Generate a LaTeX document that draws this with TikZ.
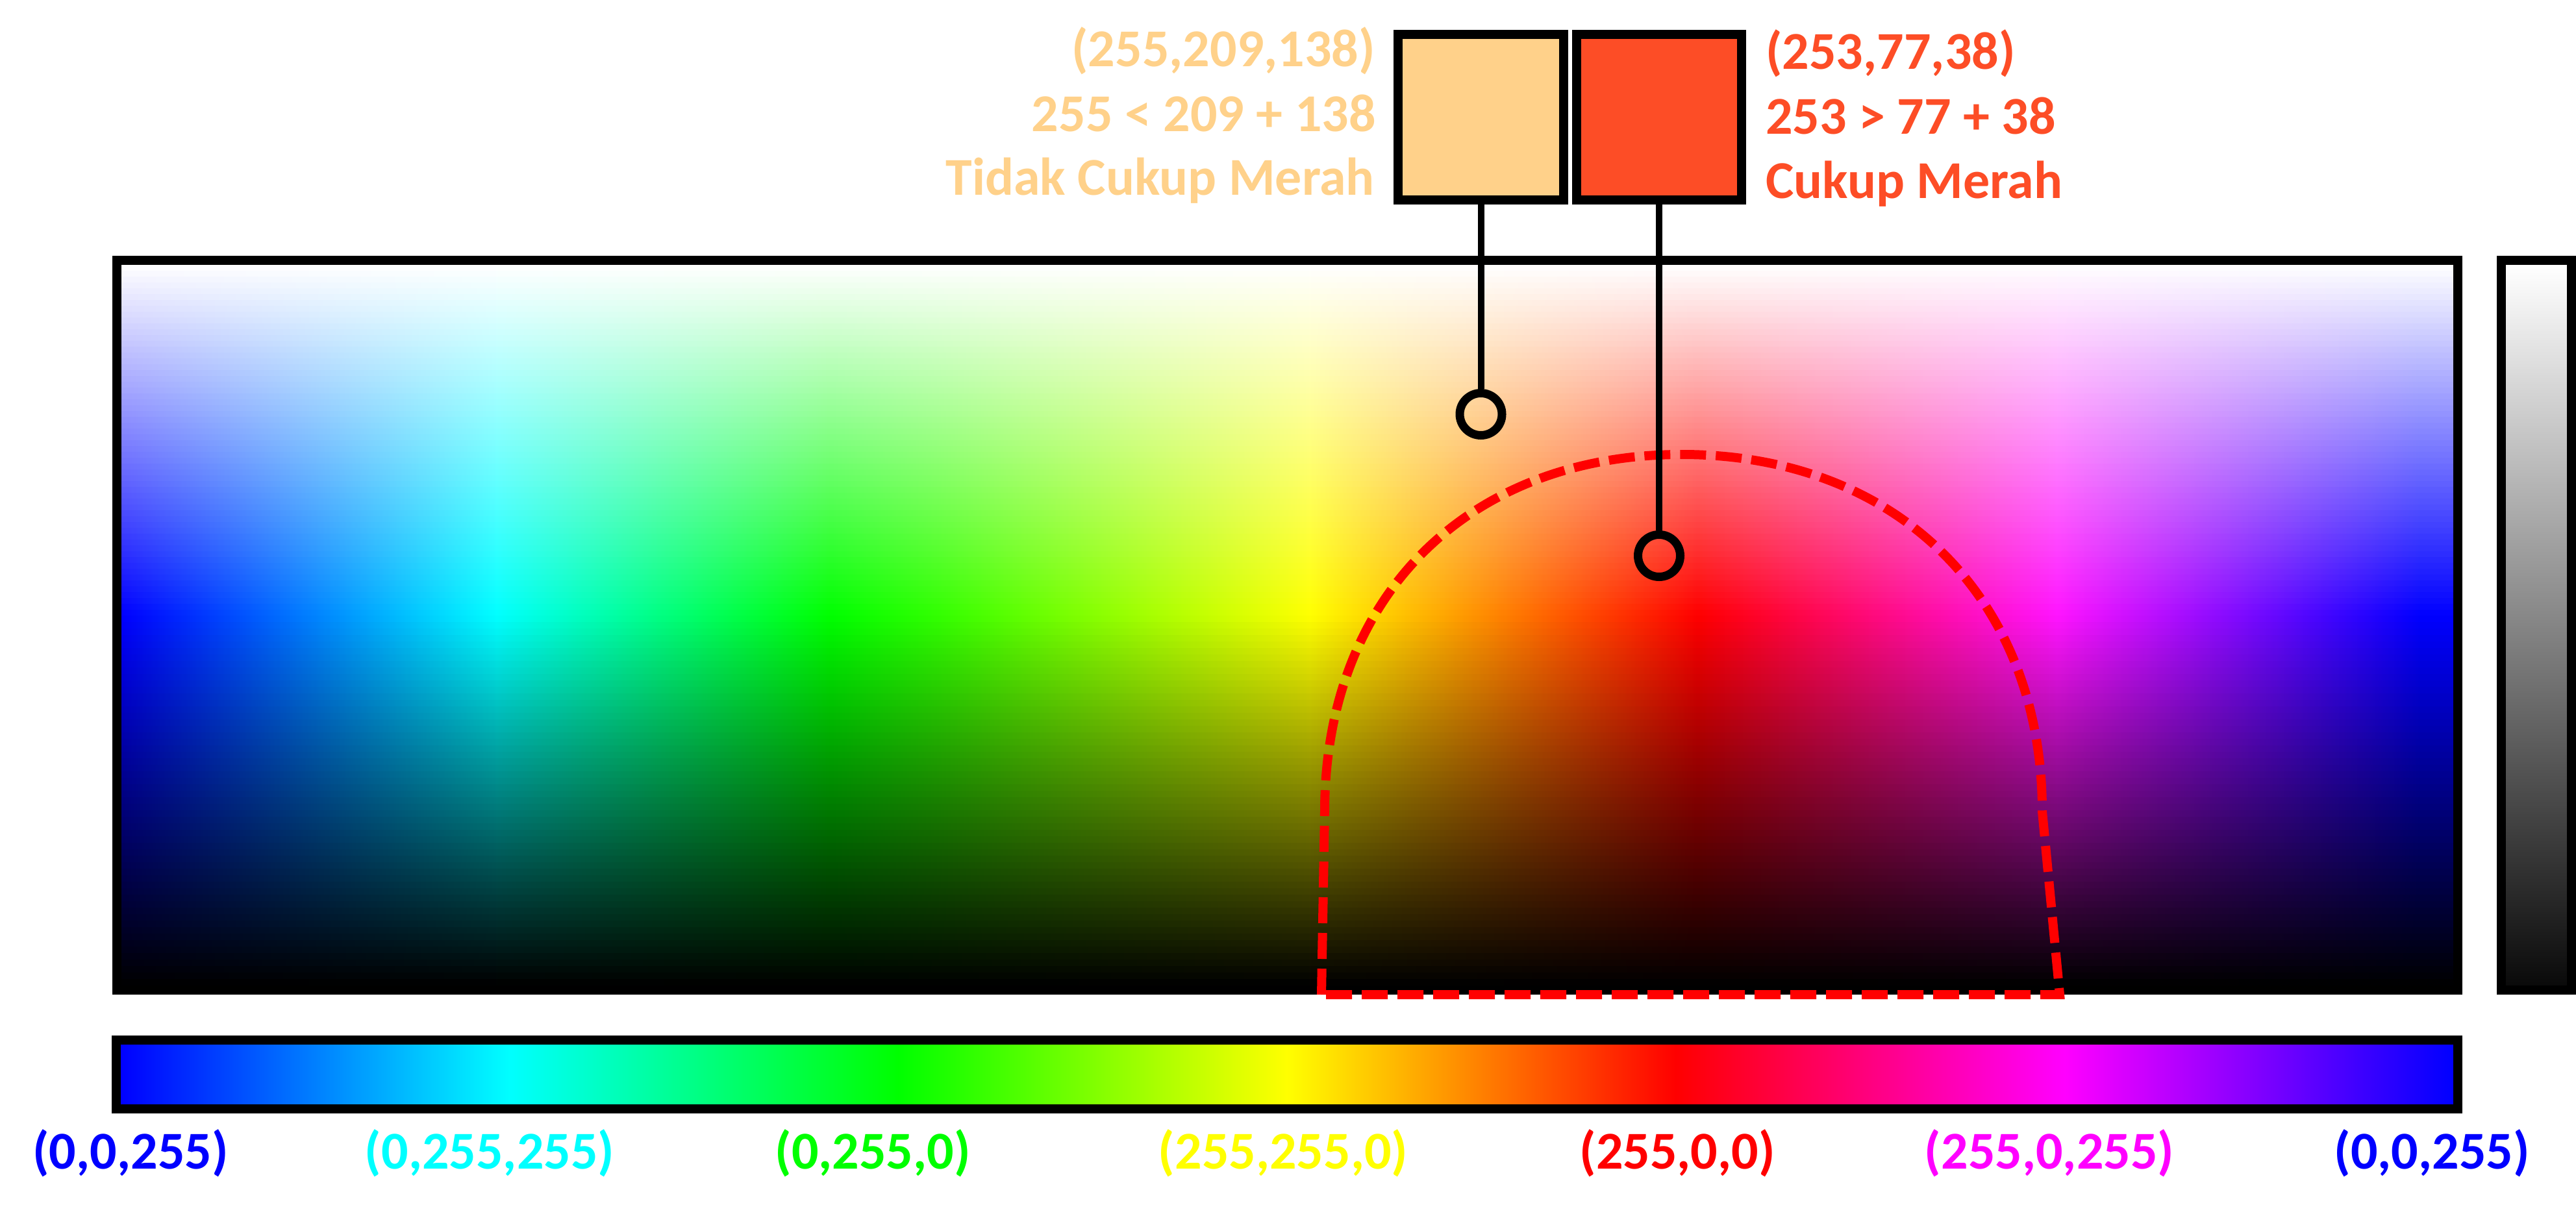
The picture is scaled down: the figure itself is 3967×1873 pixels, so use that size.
\documentclass[tikz,border=0pt]{standalone}
\usepackage{fontspec}
\setmainfont{Carlito}
\definecolor{cLight}{RGB}{255,209,138}
\definecolor{cRed}{RGB}{253,77,38}
\definecolor{cBlue}{RGB}{0,0,255}
\definecolor{cCyan}{RGB}{0,255,255}
\definecolor{cGreen}{RGB}{0,255,0}
\definecolor{cGreenB}{RGB}{50,255,0}
\definecolor{cYellow}{RGB}{255,255,0}
\definecolor{cPure}{RGB}{255,0,0}
\definecolor{cMag}{RGB}{255,0,255}
\definecolor{cMagB}{RGB}{255,20,255}
\pgfdeclarehorizontalshading{huemain}{100bp}{color(0bp)=(cBlue); color(25bp)=(cBlue); color(33.05bp)=(cCyan); color(40.2bp)=(cGreen); color(42.5bp)=(cGreenB); color(50.48bp)=(cYellow); color(58.8bp)=(cPure); color(66.5bp)=(cMagB); color(74.3bp)=(cBlue); color(100bp)=(cBlue)}
\pgfdeclarehorizontalshading{huebar}{100bp}{color(0bp)=(cBlue); color(25bp)=(cBlue); color(33.333bp)=(cCyan); color(41.667bp)=(cGreen); color(50bp)=(cYellow); color(58.333bp)=(cPure); color(66.667bp)=(cMag); color(75bp)=(cBlue); color(100bp)=(cBlue)}
\begin{document}
\begin{tikzpicture}[x=1pt,y=-1pt,
  box/.style={draw=black, line width=14pt, inner sep=0pt, rectangle},
  sq/.style={draw=black, line width=14pt, inner sep=0pt, minimum height=255pt, rectangle},
  ring/.style={circle, draw=black, line width=13pt, minimum size=65pt, inner sep=0pt},
  conn/.style={draw=black, line width=10pt},
  dome/.style={draw=cPure, line width=14pt, dash pattern=on 40pt off 15pt},
  txt/.style={font=\fontsize{82}{99}\selectfont\bfseries, inner sep=0pt}]
\useasboundingbox (0,0) rectangle (3967,1873);
% main colour field
\shade[shading=huemain] (187,408) rectangle (3778,1518);
\foreach \i in {0,...,59} {
  \pgfmathsetmacro\op{1-(\i+0.5)/60}
  \fill[white, opacity=\op] (187,{408+9*\i}) rectangle (3778,{417+9*\i});
}
\foreach \j in {0,...,56} {
  \pgfmathsetmacro\op{(\j+0.5)/57}
  \fill[black, opacity=\op] (187,{948+10*\j}) rectangle (3778,{958+10*\j});
}
% grey bar
\shade[top color=white, bottom color=black!96!white] (3859,408) rectangle (3953,1518);
% hue bar
\shade[shading=huebar] (186,1609) rectangle (3778,1701);
% frames
\node[box, minimum width=3605pt, minimum height=1124pt] (main) at (1982.5,963) {};
\node[box, minimum width=108pt, minimum height=1124pt] (grey) at (3906,963) {};
\node[box, minimum width=3606pt, minimum height=106pt] (bar) at (1982,1655) {};
% dashed region
\draw[dome] (2035,1532) -- (2040,1250) .. controls (2040,920) and (2260,700) .. (2590,700)
  .. controls (2920,700) and (3145,920) .. (3145,1250) -- (3172,1532) -- cycle;
% squares, rings, connectors
\node[sq, fill=cLight, minimum width=255pt] (sqA) at (2280.5,180.5) {};
\node[sq, fill=cRed, minimum width=254pt] (sqB) at (2555,180.5) {};
\node[ring] (cA) at (2280.5,638) {};
\node[ring] (cB) at (2555,856) {};
\draw[conn] (sqA.south) -- (cA.north);
\draw[conn] (sqB.south) -- (cB.north);
% texts
\node[txt, text=cLight, anchor=base east] (la1) at (2118,103) {(255,209,138)};
\node[txt, text=cLight, anchor=base east] (la2) at (2119,202) {255 < 209 + 138};
\node[txt, text=cLight, anchor=base east] (la3) at (2117,300) {Tidak Cukup Merah};
\node[txt, text=cRed, anchor=base west] (ra1) at (2719,107) {(253,77,38)};
\node[txt, text=cRed, anchor=base west] (ra2) at (2719,206) {253 > 77 + 38};
\node[txt, text=cRed, anchor=base west] (ra3) at (2719,305) {Cukup Merah};
% bottom labels
\node[txt, text=cBlue, anchor=base] (l1) at (201,1800) {(0,0,255)};
\node[txt, text=cCyan, anchor=base] (l2) at (754,1800) {(0,255,255)};
\node[txt, text=cGreen, anchor=base] (l3) at (1344,1800) {(0,255,0)};
\node[txt, text=cYellow, anchor=base] (l4) at (1976,1800) {(255,255,0)};
\node[txt, text=cPure, anchor=base] (l5) at (2583,1800) {(255,0,0)};
\node[txt, text=cMag, anchor=base] (l6) at (3156,1800) {(255,0,255)};
\node[txt, text=cBlue, anchor=base] (l7) at (3745,1800) {(0,0,255)};
\end{tikzpicture}
\end{document}
